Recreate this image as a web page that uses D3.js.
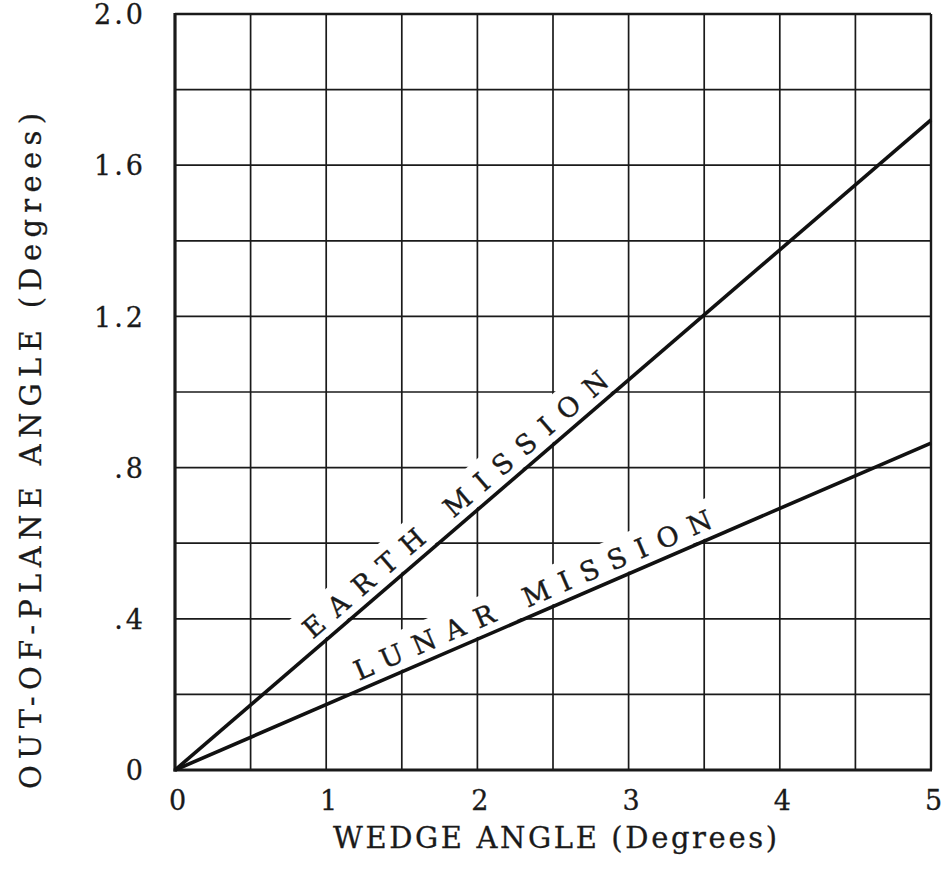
<!DOCTYPE html>
<html>
<head>
<meta charset="utf-8">
<script src="https://cdn.jsdelivr.net/npm/d3@7"></script>
<style>
  html, body { margin: 0; padding: 0; background: #fff; }
  svg { display: block; }
  text { font-family: "DejaVu Serif", "Liberation Serif", serif; fill: #1a1a1a; }
</style>
</head>
<body>
<svg id="chart" width="948" height="872"></svg>
<script>
// ---- data ----
const xTicks = [0, 1, 2, 3, 4, 5];
const xTickLabels = ["0", "1", "2", "3", "4", "5"];
const yTicks = [0, 0.4, 0.8, 1.2, 1.6, 2.0];
const yTickLabels = ["0", ".4", ".8", "1.2", "1.6", "2.0"];
const xGrid = [0.5, 1, 1.5, 2, 2.5, 3, 3.5, 4, 4.5];
const yGrid = [0.2, 0.4, 0.6, 0.8, 1.0, 1.2, 1.4, 1.6, 1.8];
const earthX = [0, 5];
const earthY = [0, 1.72];
const lunarX = [0, 5];
const lunarY = [0, 0.865];
const seriesNames = ["EARTH MISSION", "LUNAR MISSION"];
const labelRanges = [[0.95, 2.92], [1.24, 3.59]]; // label start/end along x (data units)
const xTitle = "WEDGE ANGLE (Degrees)";
const yTitle = "OUT-OF-PLANE ANGLE (Degrees)";

// ---- layout ----
const L = 175, R = 931, T = 14, B = 770;
const svg = d3.select("#chart");
const x = d3.scaleLinear().domain([0, 5]).range([L, R]);
const y = d3.scaleLinear().domain([0, 2]).range([B, T]);
const ink = "#1a1a1a";

// grid
const g = svg.append("g");
g.selectAll("line.vx").data(xGrid).join("line")
  .attr("x1", d => x(d)).attr("x2", d => x(d)).attr("y1", T).attr("y2", B)
  .attr("stroke", ink).attr("stroke-width", 1.7);
g.selectAll("line.hy").data(yGrid).join("line")
  .attr("x1", L).attr("x2", R).attr("y1", d => y(d)).attr("y2", d => y(d))
  .attr("stroke", ink).attr("stroke-width", 1.7);

// white bands behind the curve labels (grid is interrupted there)
const series = [
  {name: seriesNames[0], xs: earthX, ys: earthY, range: labelRanges[0]},
  {name: seriesNames[1], xs: lunarX, ys: lunarY, range: labelRanges[1]}
];
series.forEach(s => {
  const slope = (s.ys[1] - s.ys[0]) / (s.xs[1] - s.xs[0]);
  const p0 = [x(s.range[0]), y(s.range[0] * slope)];
  const p1 = [x(s.range[1]), y(s.range[1] * slope)];
  const ang = Math.atan2(p1[1] - p0[1], p1[0] - p0[0]) * 180 / Math.PI;
  const len = Math.hypot(p1[0] - p0[0], p1[1] - p0[1]);
  s.p0 = p0; s.ang = ang; s.len = len;
  svg.append("rect")
    .attr("transform", `translate(${p0[0]},${p0[1]}) rotate(${ang})`)
    .attr("x", -8).attr("y", -39).attr("width", len + 16).attr("height", 37)
    .attr("fill", "#fff");
});

// frame
svg.append("line").attr("x1", L).attr("x2", R).attr("y1", T).attr("y2", T).attr("stroke", ink).attr("stroke-width", 2.4);
svg.append("line").attr("x1", R).attr("x2", R).attr("y1", T).attr("y2", B).attr("stroke", ink).attr("stroke-width", 2.4);
svg.append("line").attr("x1", L).attr("x2", L).attr("y1", T - 1).attr("y2", B + 1.5).attr("stroke", ink).attr("stroke-width", 3.2);
svg.append("line").attr("x1", L - 1.5).attr("x2", R + 1).attr("y1", B).attr("y2", B).attr("stroke", ink).attr("stroke-width", 3.2);

// curves
const line = d3.line().x(d => x(d[0])).y(d => y(d[1]));
series.forEach(s => {
  svg.append("path").datum(s.xs.map((v, i) => [v, s.ys[i]]))
    .attr("d", line).attr("fill", "none").attr("stroke", "#111").attr("stroke-width", 3.6);
});

// curve labels
series.forEach(s => {
  svg.append("text")
    .attr("transform", `translate(${s.p0[0]},${s.p0[1]}) rotate(${s.ang})`)
    .attr("x", 0).attr("y", -9)
    .attr("font-size", 27)
    .attr("stroke", "#1a1a1a").attr("stroke-width", 0.4)
    .attr("textLength", s.len).attr("lengthAdjust", "spacing")
    .text(s.name);
});

// axes (labels only)
const xAxis = d3.axisBottom(x).tickValues(xTicks).tickSize(0).tickPadding(0)
  .tickFormat((d, i) => xTickLabels[i]);
const gx = svg.append("g").attr("transform", `translate(0,${B})`).call(xAxis);
gx.select(".domain").remove();
gx.selectAll("text").attr("dy", null).attr("y", 40).attr("x", 2)
  .attr("font-size", 27).attr("font-family", '"DejaVu Serif", serif').attr("fill", ink)
  .attr("stroke", ink).attr("stroke-width", 0.3);

const yAxis = d3.axisLeft(y).tickValues(yTicks).tickSize(0).tickPadding(0)
  .tickFormat((d, i) => yTickLabels[i]);
const gy = svg.append("g").attr("transform", `translate(143,0)`).call(yAxis);
gy.select(".domain").remove();
gy.selectAll("text").attr("dy", "0.36em").attr("x", 0)
  .attr("font-size", 27).attr("letter-spacing", 3)
  .attr("font-family", '"DejaVu Serif", serif').attr("fill", ink)
  .attr("stroke", ink).attr("stroke-width", 0.3);
gy.selectAll("text").attr("dx", 3);

// titles
svg.append("text").attr("x", 333).attr("y", 848).attr("font-size", 29)
  .attr("stroke", ink).attr("stroke-width", 0.3)
  .attr("textLength", 444).attr("lengthAdjust", "spacing").text(xTitle);
svg.append("text")
  .attr("transform", `translate(41,${451}) rotate(-90)`)
  .attr("text-anchor", "middle").attr("font-size", 29)
  .attr("stroke", ink).attr("stroke-width", 0.3)
  .attr("textLength", 676).attr("lengthAdjust", "spacing").text(yTitle);
</script>
</body>
</html>
